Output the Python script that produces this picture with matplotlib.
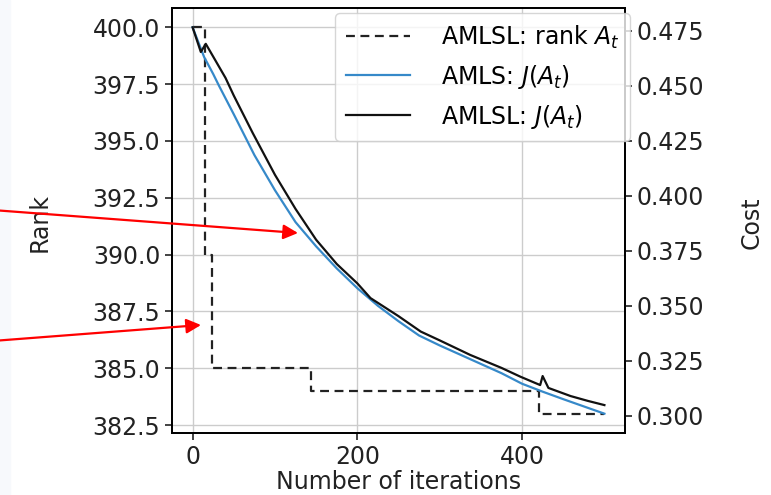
import matplotlib
matplotlib.use("Agg")
import matplotlib.pyplot as plt
from matplotlib.patches import Rectangle, FancyArrowPatch

# ---- data ----
rank_iters = [0, 15, 23, 144, 421, 500]
rank_vals = [400, 390, 385, 384, 383, 383]

amls_iters = [0, 14, 25, 32, 50, 75, 100, 125, 150, 175, 200, 225, 250, 275,
              300, 325, 350, 375, 400, 425, 450, 475, 500]
amls_cost = [0.4765, 0.4630, 0.4553, 0.4500, 0.4370, 0.4185, 0.4025, 0.3880,
             0.3770, 0.3670, 0.3580, 0.3500, 0.3430, 0.3365, 0.3320, 0.3278,
             0.3236, 0.3194, 0.3146, 0.3110, 0.3076, 0.3043, 0.3010]

amlsl_iters = [0, 10, 16, 25, 40, 50, 73, 100, 125, 150, 175, 200, 216, 250,
               277, 300, 337, 375, 398, 422, 425, 432, 459, 480, 500]
amlsl_cost = [0.4765, 0.4653, 0.4690, 0.4632, 0.4535, 0.4455, 0.4285, 0.4095,
              0.3940, 0.3800, 0.3690, 0.3602, 0.3535, 0.3453, 0.3383, 0.3343,
              0.3277, 0.3218, 0.3178, 0.3140, 0.3181, 0.3127, 0.3090, 0.3068,
              0.3049]

x_ticks = [0, 200, 400]

FS = 17

fig = plt.figure(figsize=(7.71, 4.95), dpi=100)
fig.patches.append(Rectangle((0, 0), 10 / 771, 1, transform=fig.transFigure,
                             color="#f7f9fc", zorder=-10))

ax = fig.add_axes([172 / 771, 62 / 495, 453 / 771, 425 / 495])
ax2 = ax.twinx()

l1, = ax.step(rank_iters, rank_vals, where="post", color="#222222",
              lw=1.6, dashes=(4, 2.5), label="AMLSL: rank $A_t$")
l2, = ax2.plot(amls_iters, amls_cost, color="#3689c9", lw=1.6,
               label="AMLS: $J(A_t)$")
l3, = ax2.plot(amlsl_iters, amlsl_cost, color="#111111", lw=1.6,
               label="AMLSL: $J(A_t)$")

ax.set_xticks(x_ticks)
ax.grid(True, color="#cccccc", lw=1.0)
ax.set_axisbelow(True)

for a in (ax, ax2):
    a.tick_params(labelsize=FS, length=5, width=1.2, colors="#222222")
    for s in a.spines.values():
        s.set_linewidth(1.3)
        s.set_color("black")

ax.set_xlabel("Number of iterations", fontsize=FS, color="#222222")
ax.set_ylabel("Rank", fontsize=FS, color="#222222")
ax2.set_ylabel("Cost", fontsize=FS, color="#222222")
ax.xaxis.set_label_coords(0.5, -0.088)
ax.yaxis.set_label_coords(-0.265, 0.495)
ax2.yaxis.set_label_coords(1.254, 0.495)

ax2.legend([l1, l2, l3], [l1.get_label(), l2.get_label(), l3.get_label()],
           loc="upper right", bbox_to_anchor=(1.011, 0.988), borderaxespad=0,
           fontsize=FS, handlelength=2.7, handletextpad=1.3, borderpad=0.45)

# red annotation arrows coming from outside the chart
arrow_kw = dict(arrowstyle="-|>", color="red", lw=1.6, mutation_scale=22,
                shrinkA=0, shrinkB=0)
fig.add_artist(FancyArrowPatch(
    (-0.01, 1 - 210 / 495), (298 / 771, 1 - 233 / 495),
    transform=fig.transFigure, **arrow_kw))
fig.add_artist(FancyArrowPatch(
    (-0.01, 1 - 341 / 495), (201 / 771, 1 - 325 / 495),
    transform=fig.transFigure, **arrow_kw))

fig.savefig("out.png", dpi=100)
